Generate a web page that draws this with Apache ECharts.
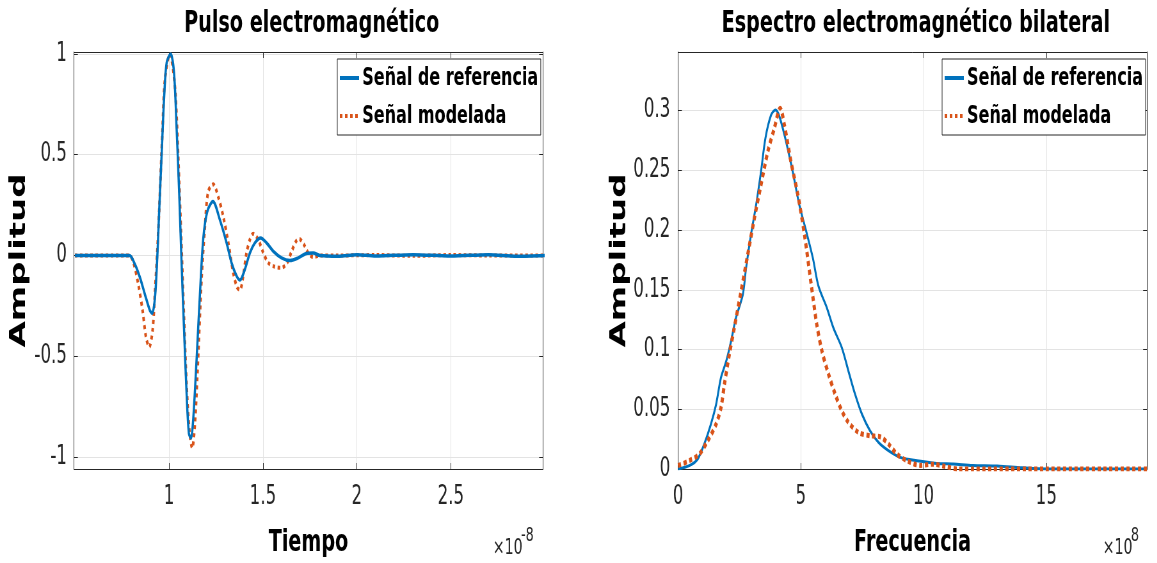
<!DOCTYPE html>
<html>
<head>
<meta charset="utf-8">
<script src="https://cdn.jsdelivr.net/npm/echarts@6/dist/echarts.min.js"></script>
<style>
  html, body { margin: 0; padding: 0; background: #fff; overflow: hidden; }
  /* the original figure is squeezed horizontally, so draw wide and squeeze */
  #chart { width: 1808px; height: 563px; transform: scaleX(0.64); transform-origin: 0 0; }
</style>
</head>
<body>
<div id="chart"></div>
<script>
// pulse (time in units of 1e-8 s)
const tRef = [0.5, 0.7, 0.79, 0.819, 0.846, 0.872, 0.899, 0.911, 0.926, 0.938, 0.948, 0.961, 0.975, 0.988, 1.009, 1.027, 1.041, 1.055, 1.067, 1.08, 1.094, 1.106, 1.117, 1.129, 1.147, 1.165, 1.183, 1.204, 1.234, 1.271, 1.307, 1.333, 1.36, 1.378, 1.404, 1.431, 1.457, 1.488, 1.52, 1.555, 1.599, 1.644, 1.688, 1.732, 1.768, 1.803, 1.9, 2.0, 2.1, 2.3, 2.5, 2.7, 2.85, 3.0]
const aRef = [0, 0, 0, -0.044, -0.11, -0.192, -0.274, -0.287, -0.208, -0.01, 0.218, 0.497, 0.793, 0.957, 1.0, 0.908, 0.629, 0.30, -0.028, -0.356, -0.685, -0.882, -0.906, -0.816, -0.52, -0.192, 0.087, 0.218, 0.268, 0.177, 0.062, -0.036, -0.102, -0.122, -0.069, 0.013, 0.062, 0.087, 0.062, 0.021, -0.012, -0.025, -0.012, 0.01, 0.012, 0, -0.004, 0.004, -0.003, 0.004, -0.003, 0.004, -0.004, 0]
const tMod = [0.5, 0.7, 0.79, 0.81, 0.837, 0.86, 0.878, 0.895, 0.913, 0.926, 0.938, 0.948, 0.966, 0.979, 1.005, 1.02, 1.035, 1.05, 1.065, 1.08, 1.095, 1.11, 1.124, 1.138, 1.151, 1.174, 1.191, 1.209, 1.236, 1.262, 1.289, 1.316, 1.342, 1.363, 1.378, 1.395, 1.413, 1.431, 1.448, 1.475, 1.502, 1.528, 1.564, 1.599, 1.629, 1.653, 1.676, 1.693, 1.718, 1.741, 1.768, 1.803, 1.9, 2.1, 2.3, 2.5, 2.7, 3.0]
const aMod = [0, 0, 0, -0.03, -0.143, -0.274, -0.405, -0.455, -0.373, -0.176, 0.02, 0.218, 0.629, 0.875, 1.0, 0.94, 0.80, 0.48, 0.10, -0.30, -0.66, -0.88, -0.956, -0.84, -0.60, -0.11, 0.136, 0.317, 0.353, 0.292, 0.194, 0.062, -0.085, -0.159, -0.171, -0.102, 0.013, 0.079, 0.108, 0.079, 0.013, -0.036, -0.056, -0.061, -0.036, 0.021, 0.07, 0.082, 0.054, 0.012, -0.008, 0, 0, 0.002, -0.002, 0.002, 0, 0]

// spectrum (frequency in units of 1e8 Hz)
const fRef = [0, 0.46, 0.8, 1.07, 1.34, 1.55, 1.75, 1.96, 2.16, 2.36, 2.64, 2.77, 2.97, 3.18, 3.38, 3.56, 3.79, 3.97, 4.13, 4.4, 4.67, 4.94, 5.22, 5.49, 5.72, 6.06, 6.33, 6.67, 6.94, 7.21, 7.49, 7.82, 8.16, 8.57, 9.05, 9.73, 10.54, 11.2, 12.0, 13.0, 14.0, 15.0, 17.0, 19.1]
const sRef = [0, 0.0028, 0.0083, 0.021, 0.0376, 0.054, 0.0765, 0.09, 0.107, 0.1266, 0.146, 0.168, 0.196, 0.221, 0.249, 0.277, 0.2963, 0.3005, 0.295, 0.274, 0.249, 0.221, 0.199, 0.1767, 0.153, 0.135, 0.118, 0.1016, 0.082, 0.0626, 0.0459, 0.032, 0.0223, 0.0153, 0.0097, 0.0069, 0.0047, 0.0042, 0.003, 0.0025, 0.001, 0, 0, 0]
const fMod = [0, 0.46, 0.87, 1.21, 1.55, 1.75, 1.89, 2.09, 2.29, 2.57, 2.84, 3.11, 3.38, 3.66, 3.92, 4.16, 4.33, 4.6, 4.88, 5.15, 5.42, 5.65, 5.86, 6.13, 6.4, 6.67, 6.94, 7.35, 7.82, 8.23, 8.57, 8.91, 9.32, 9.86, 10.4, 10.9, 11.4, 12, 15, 19.1]
const sMod = [0.0028, 0.007, 0.0125, 0.0236, 0.0376, 0.0515, 0.071, 0.096, 0.118, 0.149, 0.1795, 0.21, 0.238, 0.266, 0.285, 0.302, 0.288, 0.257, 0.2295, 0.196, 0.155, 0.121, 0.0988, 0.0793, 0.0626, 0.0487, 0.039, 0.0306, 0.0278, 0.027, 0.0209, 0.0125, 0.007, 0.003, 0.004, 0.002, 0, 0, 0, 0]

// tick labels
const timeTicks = [1, 1.5, 2, 2.5]
const pulseTicks = [-1, -0.5, 0, 0.5, 1]
const freqTicks = [0, 5, 10, 15]
const specTicks = [0, 0.05, 0.1, 0.15, 0.2, 0.25, 0.3]

const names = ['Señal de referencia', 'Señal modelada']
const blue = '#0072BD'
const orange = '#D95319'
const axisColor = '#262626'
const gridColor = '#e3e3e3'

function pairs(xs, ys) {
  return xs.map((x, i) => [x, ys[i]])
}

// axis with labels (bottom / left)
function mainAxis(gridIndex, position, min, max, ticks, name, nameGap, labelMargin) {
  return {
    type: 'value', gridIndex, position, min, max,
    name, nameLocation: 'middle', nameGap,
    nameTextStyle: { fontFamily: 'DejaVu Sans', fontWeight: 'bold', fontSize: position === 'left' ? 34 : 30, color: '#000' },
    axisLine: { show: true, onZero: false, lineStyle: { color: axisColor, width: 1 } },
    axisTick: { show: true, inside: true, length: 6, customValues: ticks, lineStyle: { color: axisColor } },
    axisLabel: { customValues: ticks, fontFamily: 'DejaVu Sans', fontSize: 26, color: axisColor, margin: labelMargin },
    splitLine: { show: true, lineStyle: { color: gridColor, width: 1 } }
  }
}

// mirrored box side (top / right), ticks only
function boxAxis(gridIndex, position, min, max, ticks) {
  return {
    type: 'value', gridIndex, position, min, max,
    axisLine: { show: true, onZero: false, lineStyle: { color: axisColor, width: 1 } },
    axisTick: { show: true, inside: true, length: 6, customValues: ticks, lineStyle: { color: axisColor } },
    axisLabel: { show: false },
    splitLine: { show: false }
  }
}

function legendAt(left) {
  return {
    orient: 'vertical', left, top: 59,
    data: names,
    selectedMode: false,
    backgroundColor: '#fff',
    borderColor: axisColor, borderWidth: 1,
    padding: [4, 4, 4, 2],
    itemWidth: 30, itemHeight: 14, itemGap: 8,
    itemStyle: { opacity: 0 },
    lineStyle: { width: 4 },
    textStyle: { fontFamily: 'DejaVu Sans', fontWeight: 'bold', fontSize: 25, color: '#000', lineHeight: 30 }
  }
}

function exponent(x, base, power) {
  return [
    { type: 'text', x, y: 548, style: { text: base, fontFamily: 'DejaVu Sans', fontSize: 22, fill: axisColor, verticalAlign: 'middle' } },
    { type: 'text', x: x + 44, y: 536, style: { text: power, fontFamily: 'DejaVu Sans', fontSize: 20, fill: axisColor, verticalAlign: 'middle' } }
  ]
}

const chart = echarts.init(document.getElementById('chart'), null, { renderer: 'canvas' })

const option = {
  animation: false,
  backgroundColor: '#fff',
  title: [
    { text: 'Pulso electromagnético', left: 482, top: 4, textAlign: 'center',
      textStyle: { fontFamily: 'DejaVu Sans', fontWeight: 'bold', fontSize: 30, color: '#000' } },
    { text: 'Espectro electromagnético bilateral', left: 1426, top: 4, textAlign: 'center',
      textStyle: { fontFamily: 'DejaVu Sans', fontWeight: 'bold', fontSize: 30, color: '#000' } }
  ],
  legend: [legendAt(527), legendAt(1472)],
  grid: [
    { left: 115.6, top: 52, width: 732.8, height: 418 },
    { left: 1059.4, top: 52, width: 732.8, height: 418 }
  ],
  xAxis: [
    mainAxis(0, 'bottom', 0.495, 2.99, timeTicks, 'Tiempo', 59, 15),
    boxAxis(0, 'top', 0.495, 2.99, timeTicks),
    mainAxis(1, 'bottom', 0, 19.1, freqTicks, 'Frecuencia', 59, 15),
    boxAxis(1, 'top', 0, 19.1, freqTicks)
  ],
  yAxis: [
    mainAxis(0, 'left', -1.06, 1.01, pulseTicks, 'Amplitud', 68, 11),
    boxAxis(0, 'right', -1.06, 1.01, pulseTicks),
    mainAxis(1, 'left', 0, 0.349, specTicks, 'Amplitud', 74, 12),
    boxAxis(1, 'right', 0, 0.349, specTicks)
  ],
  graphic: [].concat(exponent(770, '×10', '-8'), exponent(1723, '×10', '8')),
  series: [
    { name: names[0], type: 'line', xAxisIndex: 0, yAxisIndex: 0, data: pairs(tRef, aRef),
      symbol: 'none', smooth: 0.3, z: 3, lineStyle: { color: blue, width: 3.5 }, itemStyle: { color: blue } },
    { name: names[1], type: 'line', xAxisIndex: 0, yAxisIndex: 0, data: pairs(tMod, aMod),
      symbol: 'none', smooth: 0.3, z: 2, lineStyle: { color: orange, width: 4, type: [4, 4] }, itemStyle: { color: orange } },
    { name: names[0], type: 'line', xAxisIndex: 2, yAxisIndex: 2, data: pairs(fRef, sRef),
      symbol: 'none', smooth: 0.3, z: 2, lineStyle: { color: blue, width: 3 }, itemStyle: { color: blue } },
    { name: names[1], type: 'line', xAxisIndex: 2, yAxisIndex: 2, data: pairs(fMod, sMod),
      symbol: 'none', smooth: 0.3, z: 3, lineStyle: { color: orange, width: 5, type: [5, 4] }, itemStyle: { color: orange } }
  ]
}

chart.setOption(option)
</script>
</body>
</html>
